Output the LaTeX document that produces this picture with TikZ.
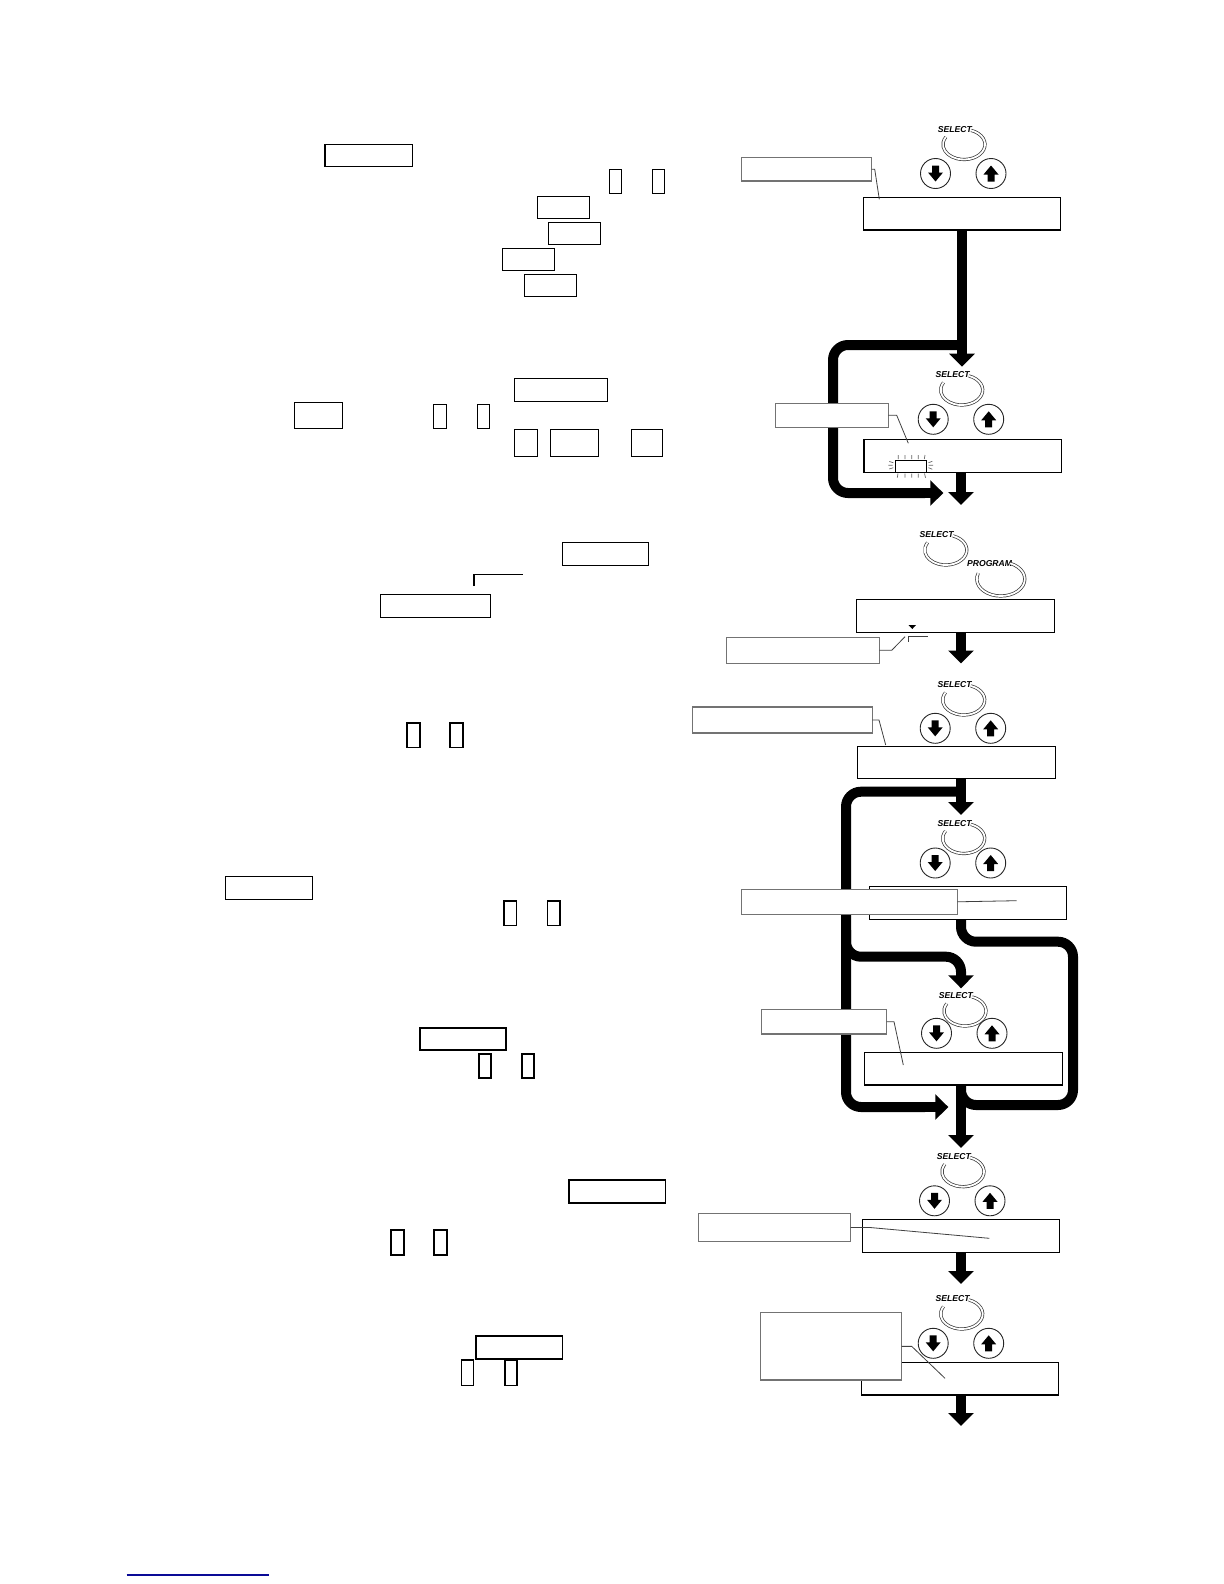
\documentclass[tikz,border=0pt]{standalone}
\usepackage{fontspec}
\setsansfont{Liberation Sans}
\usetikzlibrary{arrows.meta,calc}
\definecolor{linkblue}{RGB}{10,10,150}
\newcommand\rbox[6]{\node[#6,minimum width={((#4)-(#2))*0.5pt},minimum height={((#5)-(#3))*0.5pt}] (#1) at ({((#2)+(#4))/2},{((#3)+(#5))/2}) {};}
\newcommand\panel[4]{%
 \node[sel,anchor=west] (#1sel) at ({#2-26.5},{#3-15}) {SELECT};
 \draw[ring] ({#2+21*cos(-70)},{#3+15*sin(-70)}) arc[start angle=-70,end angle=210,x radius=21,y radius=15];
 \node[btn] (#1dn) at ({#2-28.5},{#4}) {};
 \node[btn] (#1up) at ({#2+27},{#4}) {};
 \fill ([shift={(-3.5,-8)}]#1dn.center) -- ++(7,0) -- ++(0,7) -- ++(4,0) -- ++(-7.5,9) -- ++(-7.5,-9) -- ++(4,0) -- cycle;
 \fill ([shift={(-3.5,8)}]#1up.center) -- ++(7,0) -- ++(0,-7) -- ++(4,0) -- ++(-7.5,-9) -- ++(-7.5,9) -- ++(4,0) -- cycle;
}
\tikzset{
 tb/.style={draw=black,line width=0.65pt,inner sep=0pt,outer sep=0pt},
 disp/.style={draw=black,line width=0.6pt,fill=white,inner sep=0pt,outer sep=0pt},
 callout/.style={draw=black!55,line width=0.6pt,fill=white,inner sep=0pt,outer sep=0pt},
 lead/.style={draw=black!75,line width=0.4pt},
 btn/.style={circle,draw=black!85,line width=0.45pt,minimum size=15pt,inner sep=0pt},
 sel/.style={font={\sffamily\bfseries\itshape\fontsize{4.3}{5}\selectfont},inner sep=0pt},
 ring/.style={draw=black!80,line width=0.35pt,double=white,double distance=0.9pt},
 thk/.style={line width=5pt,-{Triangle[length=6.5pt,width=12.5pt]}},
 thkl/.style={line width=5pt},
 blink/.style={draw=black!60,line width=0.35pt},
}
\begin{document}
\begin{tikzpicture}[x=0.5pt,y=-0.5pt]
\useasboundingbox (0,0) rectangle (1224,1584);
% ---------- left text boxes ----------
\rbox{t1}{325}{144.3}{412.7}{166.3}{tb}
\rbox{k1}{609.3}{169.3}{621.7}{193.3}{tb}
\rbox{k2}{652.3}{169.3}{664.3}{193.3}{tb}
\rbox{t2}{537.3}{196.3}{589.7}{218.3}{tb}
\rbox{t3}{548.3}{222.3}{600.7}{244.3}{tb}
\rbox{t4}{502.3}{248.3}{554.7}{270.3}{tb}
\rbox{t5}{524.3}{274.3}{576.7}{296.3}{tb}
\rbox{t6}{514.3}{378.3}{607.7}{401.3}{tb}
\rbox{t7}{294.3}{402.3}{342.7}{428.3}{tb}
\rbox{k3}{433.3}{404.3}{446.3}{428.3}{tb}
\rbox{k4}{477.3}{404.3}{489.7}{428.3}{tb}
\rbox{t8}{514.3}{429.3}{537.7}{456.3}{tb}
\rbox{t9}{550.3}{429.3}{598.7}{456.3}{tb}
\rbox{t10}{631.3}{429.3}{662.3}{456.3}{tb}
\rbox{t11}{562.3}{542.3}{648.7}{565.3}{tb}
\rbox{t12}{380.3}{594.3}{490.7}{617.3}{tb}
\draw[line width=1.1pt] (474,586) -- (474,573.5);
\draw[line width=0.5pt] (473.5,574) -- (522.7,574);
\rbox{k5}{407}{723}{420}{747.7}{tb}
\rbox{k6}{450}{723}{463}{747.7}{tb}
\rbox{t13}{225.3}{876.3}{312.7}{899.3}{tb}
\rbox{k7}{504}{901}{516.7}{925.7}{tb}
\rbox{k8}{547.3}{901}{560}{925.7}{tb}
\rbox{t14}{420}{1028}{506}{1050}{tb}
\rbox{k9}{479}{1054}{491}{1078}{tb}
\rbox{k10}{522}{1054}{534}{1078}{tb}
\rbox{t15}{569}{1180}{665.5}{1203}{tb}
\rbox{k11}{391}{1230}{404}{1255}{tb}
\rbox{k12}{434}{1230}{447}{1255}{tb}
\rbox{t16}{476}{1336}{562.5}{1359}{tb}
\rbox{k13}{461.5}{1360}{473.6}{1385.6}{tb}
\rbox{k14}{505}{1360}{517}{1385.6}{tb}
% ---------- thick flow lines (behind) ----------
\coordinate (a1) at (962,366.7);
\coordinate (a2) at (961,505);
\coordinate (a3) at (961,663.5);
\coordinate (a4) at (961,815);
\coordinate (a5) at (961,988.3);
\coordinate (a6) at (961,1148);
\coordinate (a7) at (961,1284);
\coordinate (a8) at (961,1426);
\coordinate (l1) at (943.3,493);
\coordinate (l2) at (948.3,1107);
\draw[thkl,rounded corners=7.5pt] (962,345) -- (833,345) -- (833,493) -- (925,493);
\draw[thk] (900,493) -- (l1);
\draw[thkl,rounded corners=7.5pt] (961,791.7) -- (846,791.7) -- (846,1107) -- (925,1107);
\draw[thk] (900,1107) -- (l2);
\draw[thk,rounded corners=7.5pt] (846,930) -- (846,956.7) -- (961,956.7) -- (a5);
\draw[thkl,rounded corners=7.5pt] (961,915) -- (961,941.7) -- (1073,941.7) -- (1073,1105) -- (961,1105) -- (961,1080);
% ---------- panel 1 ----------
\panel{p1}{964}{144.5}{173.5}
\rbox{d1}{863.3}{197.3}{1060.7}{230}{disp}
\draw[thk] (d1.south) -- (a1);
\rbox{c1}{741.7}{157.3}{871.7}{181}{callout}
\draw[lead] (c1.east) -- ++(3,0) -- (879.3,199.3);
% ---------- panel 2 ----------
\panel{p2}{961.7}{390}{419.3}
\rbox{d2}{864}{439.3}{1061.7}{472.7}{disp}
\draw[thk] (d2.south -| a2) -- (a2);
\rbox{c2}{775.7}{403.3}{888.3}{427.3}{callout}
\draw[lead] (c2.east) -- ++(8.4,0) -- (908.3,443.3);
\node[draw=black,line width=0.5pt,inner sep=0pt,minimum width=15.8pt,minimum height=6.3pt] (blk) at (910.8,466.3) {};
\draw[blink] (898.3,455)--(898.3,459) (905,455)--(905,459) (911.7,455)--(911.7,459) (918.3,455)--(918.3,459) (925,455)--(924.3,459);
\draw[blink] (898,473.5)--(897.3,477.7) (905,473.5)--(905,477.7) (911.7,473.5)--(911.7,477.7) (918.3,473.5)--(918.3,477.7) (924.5,473.5)--(925.5,477.7);
\draw[blink] (889.3,461.5)--(893.3,462.7) (888.3,465.3)--(892.7,465.3) (889.3,469)--(893.3,467.7);
\draw[blink] (928.5,462.7)--(932.3,461.3) (928.5,465.3)--(933,465.3) (928.5,467.7)--(932.3,469.3);
% ---------- panel 3 ----------
\node[sel,anchor=west] (p3sel) at (919.3,535) {SELECT};
\draw[ring] ({945.8+21*cos(-70)},{550+15*sin(-70)}) arc[start angle=-70,end angle=210,x radius=21,y radius=15];
\node[sel,anchor=west] (p3prg) at (966.7,563.3) {PROGRAM};
\draw[ring] ({1000.8+24*cos(-67)},{579+17*sin(-67)}) arc[start angle=-67,end angle=200,x radius=24,y radius=17];
\rbox{d3}{856.7}{599.3}{1054.3}{632.3}{disp}
\draw[thk] (d3.south -| a3) -- (a3);
\fill (908.5,625) -- (916,625) -- (912.3,629) -- cycle;
\draw[lead] (908.3,641.7) -- (908.3,636.7) -- (927.7,636.7);
\rbox{c3}{726.7}{637.3}{879.3}{663.3}{callout}
\draw[lead] (c3.east) -- ++(12.4,0) -- (905,636.7);
% ---------- panel 4 ----------
\panel{p4}{963.7}{700}{728.3}
\rbox{d4}{857.3}{746.7}{1055.7}{778.3}{disp}
\draw[thk] (d4.south -| a4) -- (a4);
\rbox{c4}{692.3}{707}{872.3}{733}{callout}
\draw[lead] (c4.east) -- ++(6.7,0) -- (885.7,745);
% ---------- panel 5 ----------
\panel{p5}{963.7}{838.5}{863}
\rbox{d5}{869.3}{886.7}{1066.7}{919.3}{disp}
\rbox{c5}{741.7}{889.3}{957.3}{914.3}{callout}
\draw[lead] (c5.east) -- (1016.7,900.7);
% ---------- panel 6 ----------
\panel{p6}{965}{1011}{1033.3}
\rbox{d6}{864.3}{1052.7}{1062.7}{1085}{disp}
\draw[thk] (d6.south -| a6) -- (a6);
\rbox{c6}{761.7}{1009.3}{886.7}{1034}{callout}
\draw[lead] (c6.east) -- ++(7.3,0) -- (903.3,1065);
% ---------- panel 7 ----------
\panel{p7}{963}{1171.7}{1200.8}
\rbox{d7}{862.3}{1219.3}{1059.3}{1252.3}{disp}
\draw[thk] (d7.south -| a7) -- (a7);
\rbox{c7}{698.3}{1213.3}{850.7}{1241.7}{callout}
\draw[lead] (c7.east) -- ++(19.3,0) -- (989.3,1238.3);
% ---------- panel 8 ----------
\panel{p8}{961.7}{1314}{1343.3}
\rbox{d8}{861.7}{1362.3}{1058.3}{1395}{disp}
\draw[thk] (d8.south -| a8) -- (a8);
\rbox{c8}{760.7}{1312.7}{901.7}{1380}{callout}
\draw[lead] (c8.east) -- ++(10,0) -- (945,1378.3);
% ---------- link underline ----------
\draw[linkblue,line width=0.65pt] (126.7,1575) -- (269,1575);
\end{tikzpicture}
\end{document}
